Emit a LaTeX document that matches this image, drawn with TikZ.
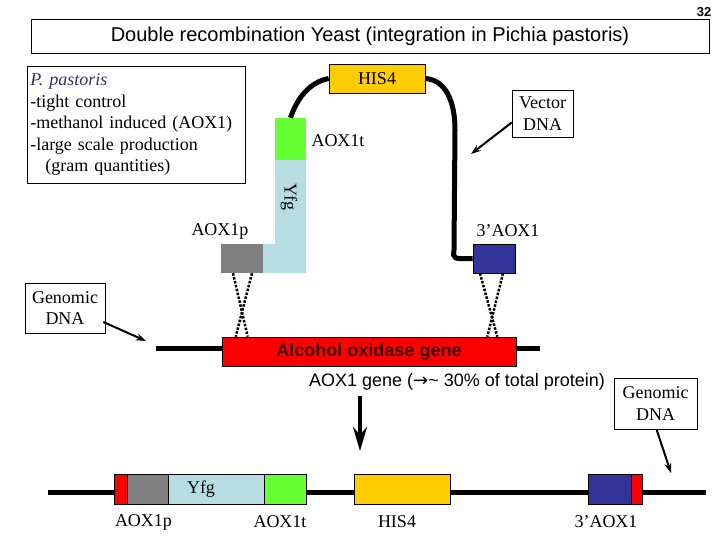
\documentclass[tikz,border=0pt]{standalone}
\usepackage{fontspec}
\setmainfont{Liberation Serif}
\setsansfont{Liberation Sans}
\newfontfamily\arrowfont{DejaVu Sans}
\usetikzlibrary{arrows.meta}
\definecolor{hisgold}{RGB}{255,204,0}
\definecolor{tgreen}{RGB}{102,255,51}
\definecolor{yfgblue}{RGB}{183,221,227}
\definecolor{pgray}{RGB}{128,128,128}
\definecolor{aoxblue}{RGB}{51,51,153}
\definecolor{aoxred}{RGB}{255,0,0}
\definecolor{textred}{RGB}{64,0,0}
\definecolor{pastblue}{RGB}{51,51,102}
\begin{document}
\begin{tikzpicture}[x=1pt,y=-1pt,
	serif/.style={font=\fontsize{18}{21.5}\selectfont},
	gene/.style={draw,line width=0.6pt,inner sep=0pt,minimum height=30pt},
	plain/.style={inner sep=0pt,minimum height=29pt},
	dna/.style={line width=5pt},
	tag/.style={draw,line width=0.6pt,serif,align=center,inner sep=0pt},
	pointer/.style={line width=2pt,-{Stealth[length=10pt,width=7pt]}},
	cross/.style={line width=2.5pt,dash pattern=on 2.5pt off 1.5pt}]
		\useasboundingbox (0,0) rectangle (720,540);
		
		% title
		\node (num) at (704,12) {\sffamily\bfseries\fontsize{13}{13}\selectfont 32};
		\node[draw,line width=0.6pt,minimum width=678pt,minimum height=34pt,
		font=\sffamily\fontsize{20}{24}\selectfont] (title) at (370,36) 
		{Double recombination Yeast (integration in Pichia pastoris)};
		
		% info
		\node[draw,line width=0.6pt,anchor=north west,text width=212pt,
		minimum height=117pt,inner xsep=3pt,inner ysep=3pt,align=left,serif] 
		(info) at (27,66) {\textcolor{pastblue}{\itshape P. pastoris}\\-tight control\\-methanol induced (AOX1)\\-large scale production\\\hspace*{15pt}(gram quantities)};
		
		% vector
		\fill[yfgblue] (263,244) -- (275,244) -- (275,160) -- (306,160) 
		-- (306,273) -- (263,273) -- cycle;
		\node[plain,fill=tgreen,minimum width=31pt,minimum height=42pt] (t1) 
		at (290.5,139) {};
		\node[plain,fill=pgray,minimum width=42pt] (p1) at (242,258.5) {};
		\node[serif,rotate=-90] (y1) at (289,197) {Yfg};
		\node[gene,fill=hisgold,minimum width=96pt,minimum height=29pt,serif] 
		(h1) at (377,78.5) {HIS4};
		\node[gene,fill=aoxblue,minimum width=42pt,minimum height=29pt] (b1) 
		at (494,258.5) {};
		\node[serif] (p1l) at (220,231) {AOX1p};
		\node[serif] (b1l) at (508,231) {3’AOX1};
		\node[serif] (t1l) at (338,141) {AOX1t};
		
		\draw[dna] (t1.north) .. controls (297,98) and (310,82) .. (h1.west);
		\draw[dna] (h1.east) .. controls (445,80) and (455,100) .. (455,130) 
		-- (454,250) .. controls (453,259) .. (b1.west);
		
		\node[tag,minimum width=61pt,minimum height=47pt] (vd) at (542.5,113.5) 
		{Vector\\DNA};
		\coordinate (va) at (471,154);
		\draw[pointer] ([yshift=-9pt]vd.west) -- (va);
		
		% genome
		\coordinate (gl) at (156,348);
		\coordinate (gr) at (540,348);
		\draw[dna] (gl) -- (gr);
		\node[gene,fill=aoxred,minimum width=294pt,minimum height=29pt,
		font=\sffamily\bfseries\fontsize{18}{21}\selectfont,text=textred] 
		(aox) at (369,351.5) {Alcohol oxidase gene};
		
		\draw[cross] ([xshift=-9pt]p1.south) -- ([xshift=26pt]aox.north west);
		\draw[cross] ([xshift=10pt]p1.south) -- ([xshift=14pt]aox.north west);
		\draw[cross] ([xshift=-14pt]b1.south) -- ([xshift=-19pt]aox.north east);
		\draw[cross] ([xshift=9pt]b1.south) -- ([xshift=-29pt]aox.north east);
		
		\node[tag,minimum width=80pt,minimum height=50pt] (gd1) at (65,308) 
		{Genomic\\DNA};
		\coordinate (ga) at (146,341);
		\draw[pointer] ([shift={(-2pt,-14pt)}]gd1.east) -- (ga);
		
		\node[font=\sffamily\fontsize{18}{21.5}\selectfont] (note) at (457,382) 
		{AOX1 gene ({\arrowfont →}\textasciitilde{} 30\% of total protein)};
		
		\node[tag,minimum width=83pt,minimum height=51pt] (gd2) at (655.5,403.5) 
		{Genomic\\DNA};
		\coordinate (gb) at (671,473);
		\draw[pointer] ([xshift=1pt]gd2.south) -- (gb);
		
		\coordinate (d1) at (360,396);
		\coordinate (d2) at (360,451);
		\draw[line width=4.5pt,-{Stealth[length=24pt,width=14pt]}] (d1) -- (d2);
		
		% result
		\coordinate (bl) at (48,492);
		\coordinate (br) at (706,492);
		\draw[dna] (bl) -- (br);
		\node[gene,fill=aoxred,minimum width=13pt] (r2) at (120.5,489) {};
		\node[gene,fill=pgray,minimum width=41pt] (p2) at (147.5,489) {};
		\node[gene,fill=yfgblue,minimum width=96pt] (y2) at (216,489) {};
		\node[gene,fill=tgreen,minimum width=42pt] (t2) at (285,489) {};
		\node[gene,fill=hisgold,minimum width=96pt] (h2) at (402,489) {};
		\node[gene,fill=aoxblue,minimum width=43pt] (b2) at (609.5,489) {};
		\node[gene,fill=aoxred,minimum width=11pt] (r3) at (636.5,489) {};
		\node[serif] (y2l) at (201,489) {Yfg};
		\node[serif] (p2l) at (143.5,522) {AOX1p};
		\node[serif] (t2l) at (280,522) {AOX1t};
		\node[serif] (h2l) at (397,522) {HIS4};
		\node[serif] (b2l) at (606,522) {3’AOX1};
\end{tikzpicture}
\end{document}
